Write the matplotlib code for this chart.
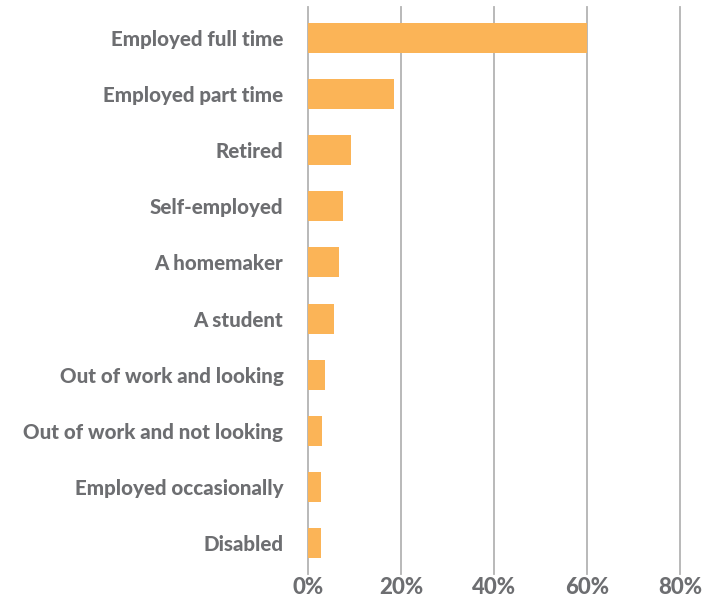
import matplotlib
matplotlib.use("Agg")
import matplotlib.pyplot as plt

plt.rcParams['font.family'] = ['Lato', 'DejaVu Sans']

categories = ['Employed full time', 'Employed part time', 'Retired', 'Self-employed',
              'A homemaker', 'A student', 'Out of work and looking',
              'Out of work and not looking', 'Employed occasionally', 'Disabled']
shares = [60.0, 18.4, 9.2, 7.5, 6.6, 5.5, 3.6, 2.9, 2.7, 2.7]
ticks = [0, 20, 40, 60, 80]
tick_labels = ['0%', '20%', '40%', '60%', '80%']

text_col = '#6d6e71'
grid_col = '#b3b3b3'
bar_col = '#fbb457'

fig = plt.figure(figsize=(7.07, 5.99), dpi=100)
ax = fig.add_axes([0.436, 0.042, 0.526, 0.946])

ypos = list(range(len(categories)))
ax.barh(ypos, shares, height=0.535, color=bar_col, zorder=2)

ax.set_ylim(len(categories) - 0.45, -0.55)
ax.set_xlim(0, 80)

ax.set_xticks(ticks)
ax.set_xticklabels(tick_labels)
ax.set_yticks(ypos)
ax.set_yticklabels(categories)

for t in ticks:
    ax.axvline(t, color=grid_col, lw=1.3, zorder=1, clip_on=False)

for s in ax.spines.values():
    s.set_visible(False)

ax.tick_params(axis='x', length=0, pad=2, labelsize=16, labelcolor=text_col)
ax.tick_params(axis='y', length=0, pad=18, labelsize=14.8, labelcolor=text_col)
for lab in ax.get_xticklabels() + ax.get_yticklabels():
    lab.set_fontweight('black')

fig.savefig('out.png', dpi=100)
